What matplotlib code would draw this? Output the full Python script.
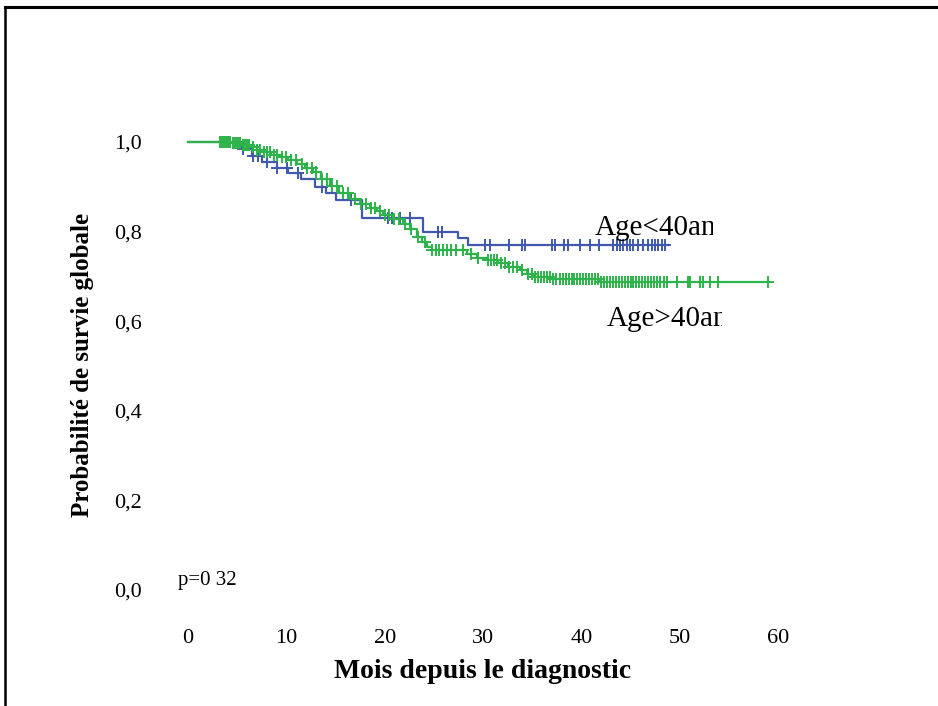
"""Kaplan-Meier overall survival by age group (<40 vs >40 years)."""
import numpy as np
import matplotlib.pyplot as plt
from matplotlib.lines import Line2D
from matplotlib.transforms import Bbox

plt.rcParams["font.family"] = ["Liberation Serif", "DejaVu Serif"]

BLUE = "#4059AD"
GREEN = "#2DB34A"

# Age < 40: step points (event time, survival after it), last follow-up time
young_t = [0, 5.5, 6.5, 7.5, 9.0, 10.2, 11.5, 12.9, 14.0, 15.0, 17.7, 23.9, 27.5, 28.5]
young_s = [1.0, 0.985, 0.968, 0.955, 0.942, 0.930, 0.918, 0.900, 0.886, 0.871,
           0.830, 0.800, 0.786, 0.770]
young_end = 48.8
young_cens = [5.6, 6.6, 7.1, 8.0, 9.1, 10.1, 11.2, 13.6, 16.6, 20.3, 20.7, 21.6,
              22.6, 25.4, 25.8, 30.2, 30.7, 32.6, 34.0, 34.3, 37.0, 37.3, 38.2,
              38.6, 39.9, 40.9, 41.8, 43.2, 43.6, 43.9, 44.2, 44.6, 44.9, 45.3,
              45.8, 46.3, 46.8, 47.2, 47.5, 47.8, 48.2, 48.5]

# Age > 40
old_t = [0, 4.5, 5.5, 6.3, 7.0, 7.6, 8.4, 9.4, 10.2, 11.1, 11.9, 12.7, 13.5, 14.4,
         15.4, 16.5, 17.5, 18.5, 19.2, 19.8, 20.8, 21.9, 22.6, 23.3, 23.8, 24.3,
         24.8, 28.4, 29.4, 30.4, 31.5, 32.5, 33.8, 34.5, 35.1, 37.0, 41.9]
old_s = [1.0, 0.997, 0.993, 0.988, 0.982, 0.977, 0.972, 0.966, 0.960, 0.952, 0.942,
         0.932, 0.918, 0.902, 0.886, 0.872, 0.862, 0.853, 0.845, 0.837, 0.828,
         0.818, 0.805, 0.789, 0.776, 0.765, 0.758, 0.750, 0.742, 0.736, 0.729,
         0.722, 0.714, 0.705, 0.699, 0.694, 0.688]
old_end = 59.0
old_cens = [3.3, 3.5, 3.6, 3.8, 4.0, 4.1, 4.3, 4.6, 4.8, 5.0, 5.2, 5.3, 5.6, 5.8,
            6.0, 6.2, 6.6, 7.0, 7.3, 7.7, 8.0, 8.3, 8.7, 9.1, 9.6, 10.0, 10.5,
            11.0, 11.6, 12.1, 12.6, 13.0, 13.6, 14.1, 14.6, 15.2, 15.8, 16.3,
            17.0, 17.6, 18.1, 18.6, 19.0, 19.5, 20.0, 20.4, 20.9, 21.5, 22.1,
            22.7, 23.4, 24.1, 24.8, 25.2, 25.5, 25.9, 26.3, 26.7, 27.3, 28.0,
            28.8, 29.5, 30.5, 30.8, 31.1, 31.4, 31.8, 32.2, 32.6, 33.0, 33.5,
            34.0, 34.6, 35.0, 35.3, 35.6, 35.9, 36.2, 36.5, 36.8, 37.1, 37.4,
            37.8, 38.1, 38.4, 38.7, 39.0, 39.3, 39.6, 39.9, 40.2, 40.5, 40.8,
            41.1, 41.4, 41.7, 42.0, 42.3, 42.6, 42.9, 43.2, 43.5, 43.8, 44.1,
            44.4, 44.7, 45.0, 45.3, 45.6, 45.9, 46.2, 46.5, 46.8, 47.1, 47.4,
            47.7, 48.0, 48.4, 48.7, 49.7, 50.8, 51.1, 52.1, 52.4, 53.1, 53.9, 59.0]

x_ticks = [0, 10, 20, 30, 40, 50, 60]
y_ticks = [0.0, 0.2, 0.4, 0.6, 0.8, 1.0]
y_labels = ["0,0", "0,2", "0,4", "0,6", "0,8", "1,0"]


def surv_at(times, surv, t):
    idx = np.searchsorted(times, t, side="right") - 1
    return np.asarray(surv)[idx]


def km(ax, times, surv, end, cens, color):
    xs = list(times) + [end]
    ys = list(surv) + [surv[-1]]
    ax.step(xs, ys, where="post", color=color, lw=1.6, clip_on=False)
    ax.plot(cens, surv_at(times, surv, cens), ls="none", marker="+",
            ms=8.5, mew=1.4, color=color, clip_on=False)


W, H = 938, 706
fig = plt.figure(figsize=(W / 100, H / 100), dpi=100)
ax = fig.add_axes([188 / W, (H - 590) / H, 590 / W, 448 / H])

km(ax, young_t, young_s, young_end, young_cens, BLUE)
km(ax, old_t, old_s, old_end, old_cens, GREEN)

ax.set_xlim(0, 60)
ax.set_ylim(0, 1)
ax.set_xticks(x_ticks)
ax.set_yticks(y_ticks)
ax.set_yticklabels(y_labels)
ax.tick_params(length=0, labelsize=16)
ax.tick_params(axis="y", pad=33)
ax.tick_params(axis="x", pad=28)
for s in ax.spines.values():
    s.set_visible(False)

fig.text(483 / W, 1 - 672 / H, "Mois depuis le diagnostic", ha="center",
         va="center", fontsize=20, fontweight="bold")
fig.text(83 / W, 1 - 365 / H, "Probabilité de survie globale", rotation=90,
         ha="center", va="center", fontsize=18, fontweight="bold")
fig.text(178 / W, 1 - 580 / H, "p=0 32", ha="left", va="center", fontsize=15)

t1 = fig.text(595 / W, 1 - 235 / H, "Age<40an", ha="left", va="baseline",
              fontsize=21)
t1.set_clip_box(Bbox.from_extents(0, 0, 713, H))
t1.set_clip_on(True)
t2 = fig.text(607 / W, 1 - 326 / H, "Age>40an", ha="left", va="baseline",
              fontsize=21)
t2.set_clip_box(Bbox.from_extents(0, 0, 722, H))
t2.set_clip_on(True)

# outer frame (top and left edges of the original figure box)
fig.add_artist(Line2D([5 / W, 1], [1 - 7 / H, 1 - 7 / H], color="black", lw=2.2))
fig.add_artist(Line2D([5 / W, 5 / W], [0, 1 - 7 / H], color="black", lw=1.8))

fig.savefig("out.png", dpi=100, facecolor="white")
